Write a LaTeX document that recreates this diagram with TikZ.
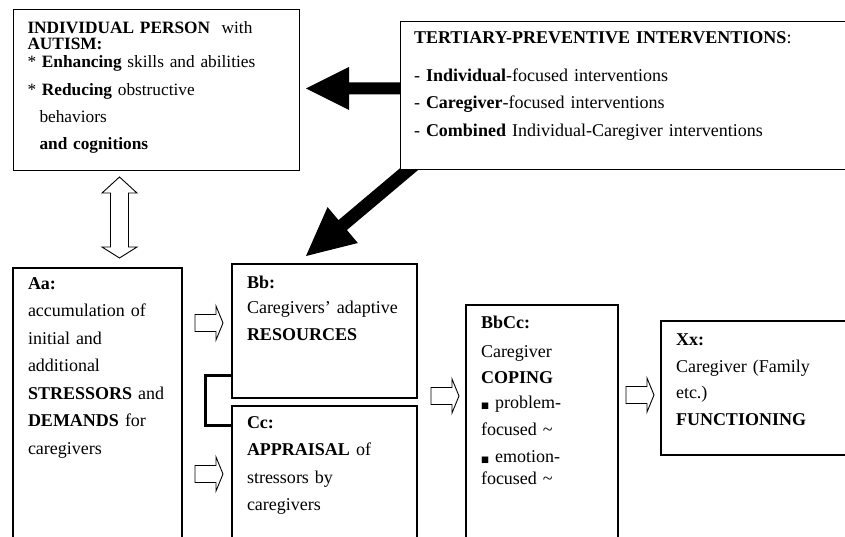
\documentclass[tikz,border=0pt]{standalone}
\usepackage{fontspec}
\setmainfont{Liberation Serif}
\newfontfamily\symfont{DejaVu Sans}
\usetikzlibrary{calc}
\newcommand\sqbullet{{\symfont\fontsize{8.5}{8.5}\selectfont ■}}
\tikzset{
  x=1pt, y=-1pt,
  thinbox/.style={draw, line width=1pt, fill=white, inner sep=0pt, outer sep=0pt, anchor=north west},
  thickbox/.style={draw, line width=2pt, fill=white, inner sep=0pt, outer sep=0pt, anchor=north west},
  txt/.style={anchor=base west, inner sep=0pt, outer sep=0pt, align=left, text width=420pt,
    font=\fontsize{18}{27.5}\selectfont},
  smalltxt/.style={txt, font=\fontsize{17.3}{27.5}\selectfont},
  hollow/.style={draw, line width=0.9pt, fill=white, line join=miter},
  bracket/.style={line width=3pt, line join=miter},
  pics/rarrow/.style={code={\draw[hollow] (0,-8.5) -- (21,-8.5) -- (21,-17) -- (28,0) -- (21,17) -- (21,8.5) -- (0,8.5) -- cycle;}},
}
\begin{document}
\begin{tikzpicture}
\clip (0,0) rectangle (845,537);
\fill[white] (0,0) rectangle (845,537);

% thick black arrows (drawn first, boxes cover their tails)
\coordinate (s1) at (410,88.5);
\coordinate (t1) at (306,88.5);
\coordinate (b1) at ($(t1)!43pt!(s1)$);
\fill[black] (t1) -- ($(b1)!21.5pt!90:(s1)$) -- ($(b1)!6pt!90:(s1)$) -- ($(s1)!6pt!-90:(b1)$)
  -- ($(s1)!6pt!90:(b1)$) -- ($(b1)!6pt!-90:(s1)$) -- ($(b1)!21.5pt!-90:(s1)$) -- cycle;

\coordinate (s2) at (420,159.9);
\coordinate (t2) at (306,256);
\coordinate (b2) at ($(t2)!48pt!(s2)$);
\fill[black] (t2) -- ($(b2)!23.5pt!90:(s2)$) -- ($(b2)!6.5pt!90:(s2)$) -- ($(s2)!6.5pt!-90:(b2)$)
  -- ($(s2)!6.5pt!90:(b2)$) -- ($(b2)!6.5pt!-90:(s2)$) -- ($(b2)!23.5pt!-90:(s2)$) -- cycle;

% boxes
\node[thinbox, minimum width=286pt, minimum height=161pt] (person) at (13,10) {};
\node[thinbox, minimum width=450pt, minimum height=148pt] (tert) at (400,22) {};
\node[thickbox, minimum width=169pt, minimum height=280pt] (aa) at (13,268) {};
\node[thickbox, minimum width=185pt, minimum height=134pt] (bb) at (232,264) {};
\node[thickbox, minimum width=185pt, minimum height=140pt] (cc) at (232,406) {};
\node[thickbox, minimum width=152pt, minimum height=245pt] (bbcc) at (466,305) {};
\node[thickbox, minimum width=189pt, minimum height=134pt] (xx) at (661,321) {};

% texts
\node[smalltxt] (persontxt) at (27.5,33.5) {\textbf{INDIVIDUAL PERSON}\ \ with\\[-11pt]
\textbf{AUTISM:}\\[-9.5pt]
{}* \textbf{Enhancing} skills and abilities\\
{}* \textbf{Reducing} obstructive\\
\hspace*{12pt}behaviors\\[-0.5pt]
\hspace*{12pt}\textbf{and cognitions}};

\node[txt] (terttxt) at (414,43.5) {\textbf{TERTIARY-PREVENTIVE INTERVENTIONS}:\\[10.5pt]
- \textbf{Individual}-focused interventions\\
- \textbf{Caregiver}-focused interventions\\
- \textbf{Combined} Individual-Caregiver interventions};

\node[txt] (aatxt) at (28,289) {\textbf{Aa:}\\
accumulation of\\
initial and\\
additional\\
\textbf{STRESSORS} and\\
\textbf{DEMANDS} for\\
caregivers};

\node[txt] (bbtxt) at (247,288) {\textbf{Bb:}\\[-2.5pt]
Caregivers’ adaptive\\
\textbf{RESOURCES}};

\node[txt] (cctxt) at (247,428) {\textbf{Cc:}\\
\textbf{APPRAISAL} of\\
stressors by\\
caregivers};

\node[txt] (bbcctxt) at (481,328) {\textbf{BbCc:}\\[1.5pt]
Caregiver\\[-1.5pt]
\textbf{COPING}\\[-2.5pt]
\sqbullet\ problem-\\[-0.5pt]
focused \textasciitilde\\
\sqbullet\ emotion-\\[-5.5pt]
focused \textasciitilde};

\node[txt] (xxtxt) at (676,345) {\textbf{Xx:}\\[-0.5pt]
Caregiver (Family\\[-1pt]
etc.)\\[-1pt]
\textbf{FUNCTIONING}};

% bracket joining Bb and Cc
\draw[bracket] ($(bb.south west)+(0,-23)$) -- ++(-27,0) |- ($(cc.north west)+(0,19)$);

% hollow double arrow
\draw[hollow] (119.5,177) -- (137,193) -- (128.5,193) -- (128.5,247) -- (137,247)
  -- (119.5,258) -- (102,247) -- (110.5,247) -- (110.5,193) -- (102,193) -- cycle;

% hollow right arrows
\pic at (195,323) {rarrow};
\pic at (195,474) {rarrow};
\pic at (431,396) {rarrow};
\pic at (626,395) {rarrow};
\end{tikzpicture}
\end{document}
